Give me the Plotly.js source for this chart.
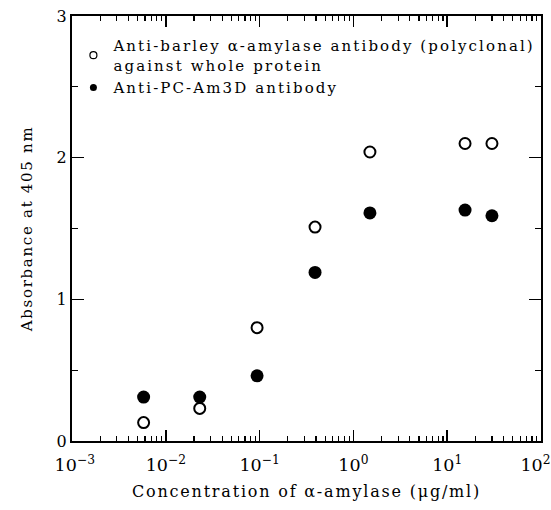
<!DOCTYPE html>
<html><head><meta charset="utf-8">
<script src="https://cdn.plot.ly/plotly-3.0.1.min.js"></script>
<style>
html,body{margin:0;padding:0;background:#fff}
.legendtext{letter-spacing:2.1px}
.xtitle{letter-spacing:1.8px}
.ytitle{letter-spacing:1.7px}
</style>
</head><body><div id="chart" style="width:551px;height:510px"></div>
<script>
const concentration = [0.0058, 0.023, 0.094, 0.39, 1.5, 15.5, 30];
const polyclonal = [0.13, 0.23, 0.80, 1.51, 2.04, 2.10, 2.10];
const antiPCAm3D = [0.31, 0.31, 0.46, 1.19, 1.61, 1.63, 1.59];
const seriesNames = ["Anti-barley \u03b1-amylase antibody (polyclonal)<br>against whole protein", "Anti-PC-Am3D antibody"];
const xTickVals = [0.001, 0.01, 0.1, 1, 10, 100];
const xTickText = ["\u00a010<sup>\u22123</sup>", "10<sup>\u22122</sup>", "10<sup>\u22121</sup>", "10<sup>0</sup>", "10<sup>1</sup>", "10<sup>2</sup>\u00a0\u00a0"];
const yTickVals = [0, 1, 2, 3];

const FONT = "DejaVu Serif";
const traces = [
  {x: concentration, y: polyclonal, type: "scatter", mode: "markers", showlegend: false,
   marker: {symbol: "circle-open", size: 11, color: "#000", line: {width: 2, color: "#000"}}},
  {x: concentration, y: antiPCAm3D, type: "scatter", mode: "markers", showlegend: false,
   marker: {symbol: "circle", size: 13, color: "#000"}},
  {x: [null], y: [null], type: "scatter", mode: "markers", name: seriesNames[0],
   marker: {symbol: "circle-open", size: 7, color: "#000", line: {width: 1.2, color: "#000"}}},
  {x: [null], y: [null], type: "scatter", mode: "markers", name: seriesNames[1],
   marker: {symbol: "circle", size: 7, color: "#000"}}
];
const layout = {
  width: 551, height: 510,
  margin: {l: 72, r: 10, t: 16, b: 69, autoexpand: false},
  paper_bgcolor: "#fff", plot_bgcolor: "#fff",
  font: {family: FONT, size: 16, color: "#000"},
  showlegend: true,
  legend: {x: 0.003, y: 0.969, xanchor: "left", yanchor: "top", bgcolor: "rgba(0,0,0,0)",
           font: {family: FONT, size: 15, color: "#000"}, tracegroupgap: 0, itemwidth: 30},
  xaxis: {type: "log", range: [-3, 2], tickvals: xTickVals, ticktext: xTickText,
          ticks: "inside", ticklen: 11, tickwidth: 1.5, tickcolor: "#000",
          showline: true, linewidth: 2, linecolor: "#000", mirror: "ticks",
          showgrid: false, zeroline: false, ticklabeloverflow: "allow", ticklabelstandoff: 7,
          tickfont: {family: FONT, size: 17.5},
          minor: {dtick: "D1", ticks: "inside", ticklen: 5, tickwidth: 1.2, tickcolor: "#000", showgrid: false},
          title: {text: "Concentration of \u03b1-amylase (\u03bcg/ml)", font: {family: FONT, size: 16}, standoff: 12}},
  yaxis: {range: [0, 3], tickvals: yTickVals,
          ticks: "inside", ticklen: 12, tickwidth: 1.5, tickcolor: "#000",
          showline: true, linewidth: 2, linecolor: "#000", mirror: "ticks",
          showgrid: false, zeroline: false,
          tickfont: {family: FONT, size: 16},
          minor: {dtick: 0.5, ticks: "inside", ticklen: 6, tickwidth: 1.2, tickcolor: "#000", showgrid: false},
          title: {text: "Absorbance at 405 nm", font: {family: FONT, size: 15}, standoff: 20}}
};
Plotly.newPlot("chart", traces, layout, {displayModeBar: false, staticPlot: true});
</script></body></html>
